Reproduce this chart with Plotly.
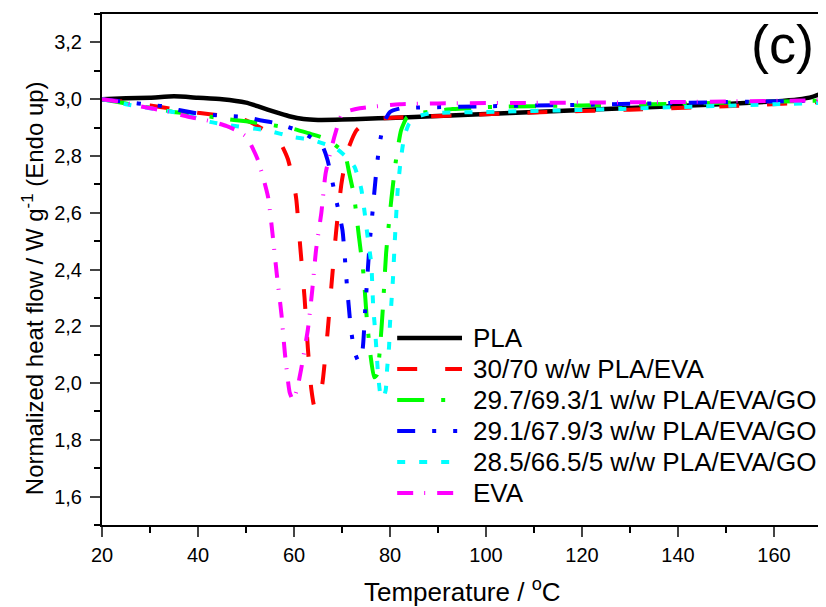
import plotly.graph_objects as go

# ---------------- data ----------------
pla_T = [20, 25, 30, 35, 40, 45, 50, 53, 56, 59, 62, 65, 70, 75, 80, 90, 100, 110, 120, 130, 140, 150, 160, 165, 168, 170]
pla_v = [3.000, 3.003, 3.005, 3.010, 3.005, 3.000, 2.988, 2.972, 2.955, 2.940, 2.930, 2.927, 2.928, 2.931, 2.934,
         2.941, 2.948, 2.955, 2.962, 2.969, 2.976, 2.983, 2.992, 2.999, 3.008, 3.020]

blend_T = [20, 25, 30, 35, 40, 45, 50, 54, 57, 58.7, 60, 60.5, 61.3, 62.2, 62.9, 63.6, 64.3, 65.2, 66, 67, 67.8,
           68.8, 69.9, 71.2, 73, 75.7, 80, 86, 95, 110, 130, 150, 170]
blend_v = [3.000, 2.990, 2.978, 2.965, 2.952, 2.942, 2.925, 2.890, 2.850, 2.790, 2.700, 2.644, 2.480, 2.300, 2.120,
           1.980, 1.915, 1.930, 2.010, 2.180, 2.344, 2.538, 2.704, 2.820, 2.890, 2.926, 2.934, 2.938, 2.944, 2.953,
           2.963, 2.975, 2.990]

go1_T = [20, 25, 30, 35, 40, 45, 50, 55, 60, 63, 66.7, 70.5, 71.5, 72.5, 73.5, 74.5, 75.2, 76, 76.7, 77.3, 77.9,
         78.5, 79.2, 80.3, 81.2, 82.3, 83.5, 85, 88, 93, 100, 120, 140, 170]
go1_v = [3.000, 2.985, 2.970, 2.955, 2.945, 2.932, 2.922, 2.910, 2.895, 2.880, 2.860, 2.810, 2.740, 2.660, 2.520,
         2.380, 2.220, 2.090, 2.020, 2.030, 2.120, 2.260, 2.460, 2.650, 2.780, 2.890, 2.935, 2.948, 2.955, 2.965,
         2.972, 2.978, 2.984, 2.995]

go3_T = [20, 25, 30, 32.7, 36, 39.8, 45, 49.4, 52.9, 56.4, 61.5, 64, 66, 67, 68.8, 70.1, 71, 71.8, 72.6, 73.5,
         74.3, 74.8, 75.3, 75.8, 76.4, 77, 77.8, 78.8, 80, 82, 85, 100, 120, 140, 170]
go3_v = [3.000, 2.990, 2.980, 2.975, 2.962, 2.950, 2.942, 2.938, 2.926, 2.915, 2.885, 2.860, 2.832, 2.785, 2.644,
         2.538, 2.350, 2.200, 2.110, 2.075, 2.120, 2.250, 2.380, 2.500, 2.610, 2.720, 2.840, 2.920, 2.955, 2.967,
         2.970, 2.975, 2.980, 2.987, 2.995]

go5_T = [20, 25, 31.4, 36.3, 42.5, 46.7, 54.3, 59.8, 64, 68.8, 71, 72.6, 74, 74.7, 75.3, 76.1, 76.5, 76.9, 77.2,
         77.5, 78, 78.5, 79.1, 79.4, 79.8, 80, 80.3, 80.6, 81, 81.6, 82.2, 83, 84, 86, 88.2, 100, 120, 140, 160, 170]
go5_v = [3.000, 2.982, 2.964, 2.950, 2.920, 2.908, 2.890, 2.867, 2.855, 2.826, 2.795, 2.762, 2.685, 2.603, 2.520,
         2.420, 2.270, 2.185, 2.110, 2.034, 1.960, 1.945, 1.974, 2.050, 2.127, 2.210, 2.285, 2.362, 2.500, 2.680,
         2.780, 2.870, 2.914, 2.940, 2.950, 2.955, 2.962, 2.972, 2.982, 2.987]

eva_T = [20, 24, 28, 34, 38, 42.5, 46, 48, 50.1, 52.5, 54.6, 55.6, 56.4, 57.4, 58.1, 59.1, 59.8, 60.6, 61.5, 62.9,
         63.8, 64.6, 65.7, 66.6, 68.5, 70.1, 73.7, 82, 90, 110, 140, 170]
eva_v = [3.000, 2.990, 2.975, 2.955, 2.938, 2.923, 2.905, 2.890, 2.867, 2.785, 2.655, 2.514, 2.386, 2.240, 2.105,
         1.967, 1.940, 1.975, 2.050, 2.190, 2.327, 2.470, 2.600, 2.740, 2.873, 2.950, 2.968, 2.982, 2.985, 2.987,
         2.990, 2.996]

names = ["PLA", "30/70 w/w PLA/EVA", "29.7/69.3/1 w/w PLA/EVA/GO", "29.1/67.9/3 w/w PLA/EVA/GO",
         "28.5/66.5/5 w/w PLA/EVA/GO", "EVA"]

x_ticks = [20, 40, 60, 80, 100, 120, 140, 160]
y_ticks = [1.6, 1.8, 2.0, 2.2, 2.4, 2.6, 2.8, 3.0, 3.2]

# ---------------- styles ----------------
series = [
    (pla_T, pla_v, "#000000", "solid", 4.5),
    (blend_T, blend_v, "#FF0000", "20px,28px", 4),
    (go1_T, go1_v, "#00FF00", "27px,17px,4px,17px", 4),
    (go3_T, go3_v, "#0000FF", "18px,17px,4px,17px,4px,17px", 4),
    (go5_T, go5_v, "#00FFFF", "8px,14px", 4),
    (eva_T, eva_v, "#FF00FF", "16px,11px,1px,12px", 4),
]

FONT = "Liberation Sans, Arial, sans-serif"

# page geometry: the HTML body adds an 8 px margin, so the figure is sized/offset to compensate
OFF = 8
W, H = 826 - OFF, 607 - OFF
L, R, T = 102 - OFF, 2, 14 - OFF
B = H - (525 - OFF)
PW, PH = W - L - R, H - T - B


def px_x(p):  # page pixel -> paper x
    return (p - OFF - L) / PW


def px_y(p):  # page pixel -> paper y
    return (H - B - (p - OFF)) / PH


fig = go.Figure()
for (t, v, c, d, w), n in zip(series, names):
    fig.add_trace(go.Scatter(x=t, y=v, mode="lines", name=n, showlegend=False,
                             line=dict(color=c, dash=d, width=w, shape="spline", smoothing=0.5)))

# legend drawn as line samples + text
shapes = []
annotations = []
row0, row_gap = 338, 31
for i, ((t, v, c, d, w), n) in enumerate(zip(series, names)):
    yy = px_y(row0 + i * row_gap)
    shapes.append(dict(type="line", xref="paper", yref="paper", x0=px_x(398), x1=px_x(463), y0=yy, y1=yy,
                       line=dict(color=c, dash=d, width=w)))
    annotations.append(dict(text=n, x=px_x(472), y=yy, xref="paper", yref="paper", xanchor="left",
                            yanchor="middle", showarrow=False, font=dict(size=26, family=FONT)))

annotations.append(dict(text="(c)", x=px_x(784), y=px_y(44), xref="paper", yref="paper", xanchor="center",
                        yanchor="middle", showarrow=False, font=dict(size=54, family=FONT)))
annotations.append(dict(text="Temperature / <sup>o</sup>C", x=px_x(463), y=px_y(590), xref="paper", yref="paper",
                        xanchor="center", yanchor="middle", showarrow=False, font=dict(size=26, family=FONT)))
annotations.append(dict(text="Normalized heat flow / W g<sup>-1</sup> (Endo up)", x=px_x(33), y=px_y(288),
                        xref="paper", yref="paper", xanchor="center", yanchor="middle", textangle=-90,
                        showarrow=False, font=dict(size=24, family=FONT)))

fig.update_layout(
    width=W, height=H,
    margin=dict(l=L, r=R, t=T, b=B),
    plot_bgcolor="white", paper_bgcolor="white",
    separators=", ",
    font=dict(family=FONT, color="black", size=20),
    showlegend=False,
    xaxis=dict(range=[20, 170], tickvals=x_ticks, ticks="outside", ticklen=10, tickwidth=2,
               showline=True, linewidth=2, linecolor="black", mirror=True, showgrid=False, zeroline=False,
               tickfont=dict(size=20), ticklabelstandoff=1,
               minor=dict(dtick=10, tick0=20, ticks="outside", ticklen=6, tickwidth=2, tickcolor="black")),
    yaxis=dict(range=[1.5, 3.3], tickvals=y_ticks, tickformat=".1f", ticks="outside", ticklen=10, tickwidth=2,
               showline=True, linewidth=2, linecolor="black", mirror=True, showgrid=False, zeroline=False,
               tickfont=dict(size=20), ticklabelstandoff=4,
               minor=dict(dtick=0.1, tick0=1.5, ticks="outside", ticklen=6, tickwidth=2, tickcolor="black")),
    shapes=shapes,
    annotations=annotations,
)

fig.write_html("out.html")
